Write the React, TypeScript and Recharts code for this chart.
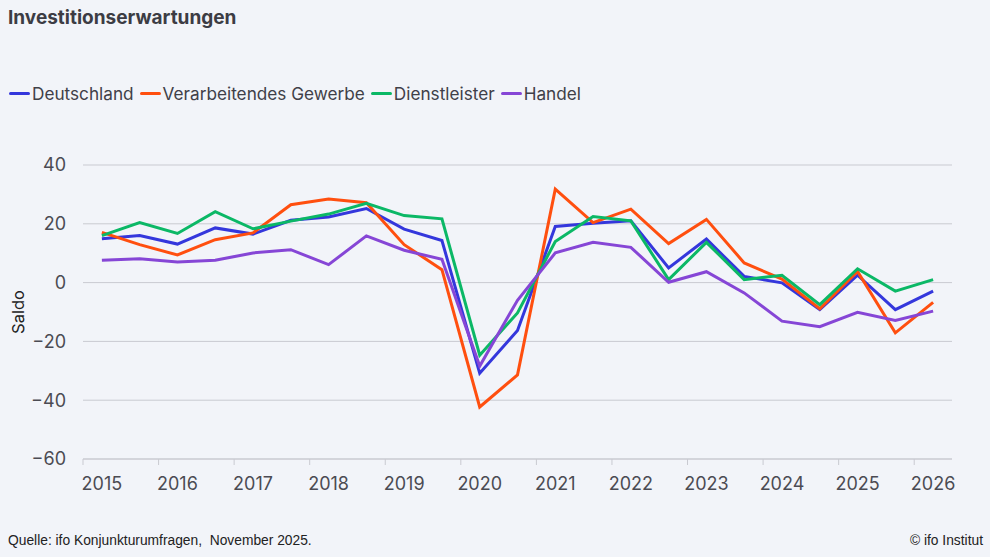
import React from 'react';
import { LineChart, Line, XAxis, YAxis, CartesianGrid } from 'recharts';

// Halbjahres-Zeitpunkte (Frühjahr / Herbst)
const periods = [
  2015.25, 2015.75, 2016.25, 2016.75, 2017.25, 2017.75, 2018.25, 2018.75,
  2019.25, 2019.75, 2020.25, 2020.75, 2021.25, 2021.75, 2022.25, 2022.75,
  2023.25, 2023.75, 2024.25, 2024.75, 2025.25, 2025.75, 2026.25,
];

const deutschland = [
  14.9, 16.0, 13.1, 18.6, 16.5, 21.2, 22.3, 25.2, 18.2, 14.3, -30.8, -16.3,
  19.1, 20.2, 21.0, 5.0, 14.8, 2.1, -0.1, -9.2, 2.5, -9.2, -2.9,
];
const verarbeitendes = [
  17.1, 12.9, 9.4, 14.6, 16.9, 26.5, 28.4, 27.2, 12.9, 4.4, -42.3, -31.4,
  31.8, 20.4, 25.0, 13.3, 21.5, 6.7, 1.2, -8.9, 3.8, -17.1, -6.7,
];
const dienstleister = [
  16.0, 20.4, 16.7, 24.1, 18.3, 20.9, 23.3, 27.0, 22.8, 21.7, -24.7, -10.3,
  14.0, 22.5, 21.0, 1.0, 13.7, 1.0, 2.5, -7.5, 4.7, -2.9, 1.0,
];
const handel = [
  7.6, 8.1, 7.0, 7.6, 10.1, 11.2, 6.1, 15.9, 11.0, 7.9, -28.4, -6.0,
  10.1, 13.7, 12.0, 0.1, 3.7, -3.5, -13.1, -15.0, -10.1, -12.9, -9.7,
];

const yearTicks = [2015, 2016, 2017, 2018, 2019, 2020, 2021, 2022, 2023, 2024, 2025, 2026];
const yTicks = [-60, -40, -20, 0, 20, 40];

const series = [
  { key: 'de', name: 'Deutschland', color: '#3437dc', values: deutschland },
  { key: 'vg', name: 'Verarbeitendes Gewerbe', color: '#ff4f0f', values: verarbeitendes },
  { key: 'dl', name: 'Dienstleister', color: '#0bb866', values: dienstleister },
  { key: 'ha', name: 'Handel', color: '#8646d6', values: handel },
];

const data = periods.map((t, i) => {
  const row: Record<string, number> = { t };
  series.forEach((s) => {
    row[s.key] = s.values[i];
  });
  return row;
});

const W = 990;
const H = 557;
const PLOT_LEFT = 83;
const PLOT_RIGHT = 952;
const X_DOMAIN: [number, number] = [2015, 2026.5];
const LABEL_SHIFT = ((PLOT_RIGHT - PLOT_LEFT) / (X_DOMAIN[1] - X_DOMAIN[0])) * 0.25;

const font = 'Inter, "Noto Sans", sans-serif';
const narrow = '"Liberation Sans Narrow", "Arial Narrow", "Liberation Sans", sans-serif';
const textColor = '#4b4b53';
const gridColor = '#c9cad1';

const YearTick = (props: any) => {
  const { x, y, payload } = props;
  return (
    <g>
      <line x1={x} x2={x} y1={y} y2={y + 6} stroke={gridColor} strokeWidth={1} />
      <text x={x + LABEL_SHIFT} y={y + 31} textAnchor="middle" fontSize={18} fill={textColor} fontFamily={font}>
        {payload.value}
      </text>
    </g>
  );
};

const App: React.FC = () => {
  return (
    <div style={{ position: 'absolute', left: 0, top: 0, width: W, height: H, background: '#f2f4f9', fontFamily: font, overflow: 'hidden' }}>
      <div style={{ position: 'absolute', left: 8, top: 6, fontSize: 19, fontWeight: 700, color: '#3c3c44' }}>
        Investitionserwartungen
      </div>

      <div style={{ position: 'absolute', left: 9, top: 83, display: 'flex', alignItems: 'center', fontSize: 17.2, color: '#404048' }}>
        {series.map((s) => (
          <div key={s.key} style={{ display: 'flex', alignItems: 'center', marginRight: 6 }}>
            <span style={{ display: 'inline-block', width: 21, height: 3, borderRadius: 2, background: s.color, marginRight: 2 }} />
            <span>{s.name}</span>
          </div>
        ))}
      </div>

      <div
        style={{
          position: 'absolute',
          left: 18,
          top: 312,
          transform: 'translate(-50%, -50%) rotate(-90deg)',
          fontSize: 16.5,
          color: '#222',
          whiteSpace: 'nowrap',
        }}
      >
        Saldo
      </div>

      <div style={{ position: 'absolute', left: 0, top: 0 }}>
        <LineChart width={W} height={H} data={data} margin={{ top: 165, right: W - PLOT_RIGHT, bottom: 58, left: 0 }}>
          <CartesianGrid vertical={false} stroke={gridColor} />
          <XAxis
            dataKey="t"
            type="number"
            domain={X_DOMAIN}
            ticks={yearTicks}
            interval={0}
            height={40}
            tickSize={0}
            tickMargin={0}
            tickLine={false}
            axisLine={{ stroke: gridColor }}
            tick={<YearTick />}
          />
          <YAxis
            width={PLOT_LEFT}
            domain={[-60, 40]}
            ticks={yTicks}
            interval={0}
            tickSize={0}
            tickMargin={17}
            axisLine={false}
            tickLine={false}
            tick={{ fontSize: 18, fill: textColor, fontFamily: font }}
            tickFormatter={(v: number) => String(v).replace('-', '\u2212')}
          />
          {series.map((s) => (
            <Line
              key={s.key}
              dataKey={s.key}
              name={s.name}
              stroke={s.color}
              strokeWidth={3}
              dot={false}
              activeDot={false}
              isAnimationActive={false}
            />
          ))}
        </LineChart>
      </div>

      <div style={{ position: 'absolute', left: 8, top: 533, fontSize: 13.8, color: '#222', fontFamily: narrow }}>
        Quelle: ifo Konjunkturumfragen,&nbsp; November 2025.
      </div>
      <div style={{ position: 'absolute', right: 7, top: 533, fontSize: 13.8, color: '#222', fontFamily: narrow }}>
        © ifo Institut
      </div>
    </div>
  );
};

export default App;
